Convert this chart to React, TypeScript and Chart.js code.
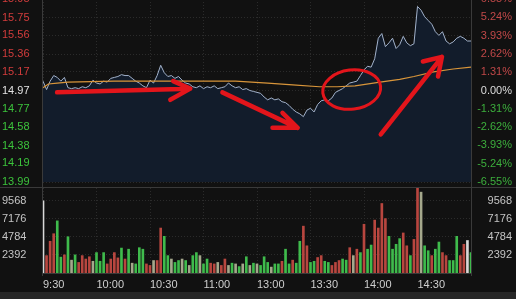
import React, { useEffect, useRef } from 'react';
import { Chart, registerables } from 'chart.js';
Chart.register(...registerables);

const prevClose = 14.97;
const priceTicks = [13.99, 14.19, 14.38, 14.58, 14.77, 14.97, 15.17, 15.36, 15.56, 15.75, 15.95];
const pctTicks = [-6.55, -5.24, -3.93, -2.62, -1.31, 0, 1.31, 2.62, 3.93, 5.24, 6.55];
const volTicks = [2392, 4784, 7176, 9568];
const timeTickMinutes = [0, 30, 60, 90, 120, 150, 180, 210, 240];
const timeTickLabels = ['9:30', '10:00', '10:30', '11:00', '13:00', '13:30', '14:00', '14:30', ''];

// price every 2 minutes (minute = index * 2)
const prices = [
  15.07, 14.98, 15.07, 15.13, 15.11, 15.07, 15.11, 15.00, 14.99, 15.00,
  14.99, 15.01, 15.00, 15.02, 15.08, 15.05, 15.04, 15.07, 15.06, 15.10,
  15.11, 15.12, 15.14, 15.13, 15.13, 15.10, 15.07, 15.05, 15.02, 15.00,
  15.08, 15.05, 15.13, 15.24, 15.16, 15.12, 15.13, 15.10, 15.12, 15.08,
  15.05, 15.04, 15.01, 15.00, 15.02, 14.99, 15.01, 15.00, 15.02, 14.99,
  15.00, 15.01, 15.05, 15.02, 15.00, 15.01, 14.98, 14.99, 14.97, 14.96,
  14.95, 14.94, 14.90, 14.87, 14.89, 14.87, 14.88, 14.85, 14.84, 14.81,
  14.77, 14.74, 14.72, 14.69, 14.76, 14.78, 14.74, 14.82, 14.86, 14.87,
  14.86, 14.89, 14.95, 14.97, 14.99, 15.02, 15.05, 15.06, 15.07, 15.13,
  15.19, 15.23, 15.22, 15.31, 15.53, 15.58, 15.44, 15.48, 15.53, 15.42,
  15.46, 15.55, 15.48, 15.45, 15.47, 15.87, 15.83, 15.76, 15.72, 15.68,
  15.60, 15.56, 15.60, 15.50, 15.47, 15.49, 15.53, 15.55, 15.53, 15.50,
  15.50,
];

const avgMinutes = [0, 3, 8, 14, 40, 83, 108, 126, 140, 155, 165, 175, 189, 200, 208, 219, 230, 240];
const avgPrices = [15.00, 15.04, 15.05, 15.06, 15.07, 15.07, 15.07, 15.05, 15.03, 15.01, 15.01, 15.02, 15.06, 15.09, 15.12, 15.17, 15.20, 15.22];

// volume every 2 minutes
const volumes = [
  9568, 2300, 4200, 5200, 6900, 2100, 2400, 4800, 1700, 2400,
  1400, 2300, 1850, 2150, 1550, 2700, 1550, 2700, 1200, 1850,
  2700, 2000, 3300, 1850, 3150, 1300, 1200, 3350, 3150, 1200,
  1000, 1650, 1650, 5950, 4850, 2300, 1850, 1400, 1650, 1850,
  1650, 1000, 2300, 2700, 2300, 1200, 1850, 1300, 1200, 1400,
  1000, 1850, 1000, 1300, 1200, 850, 1200, 2150, 1000, 1300,
  1200, 1000, 2150, 1400, 780, 1200, 1200, 1550, 3150, 1200,
  1700, 1300, 4200, 6200, 3600, 1400, 1550, 2050, 2300, 1550,
  1400, 1000, 1400, 1650, 1850, 1700, 3350, 2300, 3150, 2700,
  6450, 3150, 3700, 7000, 5950, 9200, 7200, 4850, 3150, 3800,
  4550, 5300, 3600, 2300, 4450, 11500, 10700, 3600, 2950, 2300,
  3150, 4100, 2700, 2300, 1650, 1650, 4850, 2300, 3800, 4300,
  2700,
];
const volumeDirs = [
  'w', 'r', 'r', 'r', 'g', 'g', 'r', 'g', 'n', 'g',
  'r', 'r', 'r', 'r', 'n', 'g', 'g', 'g', 'r', 'r',
  'r', 'r', 'g', 'r', 'g', 'n', 'g', 'g', 'g', 'r',
  'r', 'n', 'r', 'r', 'g', 'g', 'n', 'g', 'g', 'n',
  'g', 'n', 'g', 'g', 'n', 'g', 'g', 'r', 'r', 'n',
  'r', 'r', 'n', 'g', 'n', 'g', 'n', 'g', 'n', 'g',
  'n', 'g', 'g', 'g', 'n', 'g', 'g', 'r', 'g', 'g',
  'r', 'g', 'g', 'r', 'r', 'g', 'g', 'r', 'r', 'g',
  'g', 'r', 'r', 'r', 'g', 'g', 'r', 'n', 'r', 'g',
  'r', 'g', 'g', 'r', 'r', 'r', 'r', 'g', 'g', 'g',
  'g', 'r', 'r', 'g', 'r', 'r', 'n', 'g', 'g', 'r',
  'g', 'g', 'r', 'r', 'g', 'g', 'g', 'r', 'r', 'w',
  'g',
];

// annotations in data units: [minute, price]
const arrowTails = [[7.9, 14.95], [100.6, 14.95], [189.4, 14.50]];
const arrowTips = [[82.6, 14.99], [142.8, 14.57], [223.7, 15.33]];
const arrowWingsA = [[73, 15.07], [134.3, 14.73], [213, 15.28]];
const arrowWingsB = [[71.4, 14.87], [128.7, 14.57], [221.5, 15.12]];
const circleCenter = [173.1, 14.98];
const circleRadius = [16.3, 0.21];

const FONT = { family: 'Liberation Sans', size: 11 };
const RED = '#d23c3c';
const GREEN = '#3cc43c';
const dirColor: Record<string, string> = { r: '#b8463f', g: '#3fbb4c', n: '#a5a88c', w: '#d8d8d8' };

const gridColor = '#2b2b2b';

const framePlugin = (withHoriz: boolean) => ({
  id: 'frame' + (withHoriz ? 'v' : 'p'),
  afterDraw(chart: any) {
    const { ctx, chartArea } = chart;
    const l = Math.round(chartArea.left) - 0.5;
    const r = Math.round(chartArea.right) + 0.5;
    ctx.save();
    ctx.strokeStyle = '#3a3a3a';
    ctx.lineWidth = 1;
    ctx.beginPath();
    const bottom = withHoriz ? Math.round(chartArea.bottom) + 3 : chart.height;
    ctx.moveTo(l, 0); ctx.lineTo(l, bottom);
    ctx.moveTo(r, 0); ctx.lineTo(r, bottom);
    if (withHoriz) {
      const t = Math.round(chartArea.top) - 0.5;
      const b = Math.round(chartArea.bottom) + 0.5;
      ctx.moveTo(0, t); ctx.lineTo(chart.width, t);
      ctx.moveTo(l, b); ctx.lineTo(r, b);
    }
    ctx.stroke();
    ctx.restore();
  },
});

const annotationPlugin = {
  id: 'annot',
  afterDatasetsDraw(chart: any) {
    const { ctx, scales } = chart;
    const xs = scales.x, ys = scales.y;
    const P = (p: number[]) => [xs.getPixelForValue(p[0]), ys.getPixelForValue(p[1])];
    ctx.save();
    ctx.strokeStyle = '#e3151b';
    ctx.lineCap = 'round';
    ctx.lineJoin = 'round';
    ctx.lineWidth = 4.5;
    arrowTails.forEach((tail, i) => {
      const a = P(tail), b = P(arrowTips[i]), w1 = P(arrowWingsA[i]), w2 = P(arrowWingsB[i]);
      ctx.beginPath();
      ctx.moveTo(a[0], a[1]); ctx.lineTo(b[0], b[1]);
      ctx.moveTo(w1[0], w1[1]); ctx.lineTo(b[0], b[1]); ctx.lineTo(w2[0], w2[1]);
      ctx.stroke();
    });
    const c = P(circleCenter);
    const rx = xs.getPixelForValue(circleCenter[0] + circleRadius[0]) - c[0];
    const ry = c[1] - ys.getPixelForValue(circleCenter[1] + circleRadius[1]);
    ctx.lineWidth = 3;
    ctx.beginPath();
    ctx.ellipse(c[0], c[1], rx, ry, -0.12, 0, Math.PI * 2);
    ctx.stroke();
    ctx.restore();
  },
};

function xAxis(showLabels: boolean): any {
  return {
    type: 'linear', min: 0, max: 240, offset: false,
    afterBuildTicks: (s: any) => { s.ticks = timeTickMinutes.map((v) => ({ value: v })); },
    afterFit: (s: any) => { s.height = showLabels ? 26 : 0; s.paddingLeft = 0; s.paddingRight = 0; },
    grid: { color: gridColor, drawTicks: false, lineWidth: 1, offset: false },
    border: { display: false, dash: [1, 2] },
    ticks: {
      display: showLabels, autoSkip: false, maxRotation: 0, minRotation: 0, align: 'start', padding: 5,
      font: FONT, color: '#cfcfcf',
      callback: (_v: any, i: number) => timeTickLabels[i],
    },
  };
}

export default function App() {
  const priceRef = useRef<HTMLCanvasElement>(null);
  const volRef = useRef<HTMLCanvasElement>(null);

  useEffect(() => {
    document.body.style.margin = '0';
    document.body.style.background = '#111111';
    const pc = new Chart(priceRef.current as HTMLCanvasElement, {
      type: 'line',
      data: {
        datasets: [
          {
            data: avgPrices.map((p, i) => ({ x: avgMinutes[i], y: p })),
            borderColor: '#d8953a', borderWidth: 1.2, pointRadius: 0, fill: false, tension: 0,
            xAxisID: 'x', yAxisID: 'y',
          } as any,
          {
            data: prices.map((p, i) => ({ x: i * 2, y: p })),
            borderColor: '#a3b3cc', borderWidth: 1, pointRadius: 0, tension: 0,
            fill: 'start', backgroundColor: '#121c2b',
            xAxisID: 'x', yAxisID: 'y',
          } as any,
        ],
      },
      options: {
        responsive: false, animation: false,
        layout: { padding: { left: 2, right: 4, top: 0, bottom: 7 } },
        plugins: { legend: { display: false }, tooltip: { enabled: false } },
        scales: {
          x: xAxis(false),
          y: {
            type: 'linear', position: 'left', min: 13.99, max: 15.95,
            afterBuildTicks: (s: any) => { s.ticks = priceTicks.map((v) => ({ value: v })); },
            afterFit: (s: any) => { s.width = 41; s.paddingTop = 0; s.paddingBottom = 0; },
            grid: { color: gridColor, drawTicks: false },
            border: { display: false, dash: [1, 2] },
            ticks: {
              autoSkip: false, crossAlign: 'far', padding: 0, font: FONT,
              color: (ctx: any) => (ctx.tick.value > prevClose + 0.001 ? RED : ctx.tick.value < prevClose - 0.001 ? GREEN : '#e2e2e2'),
              callback: (v: any) => Number(v).toFixed(2),
            },
          },
          y2: {
            type: 'linear', position: 'right', min: -6.55, max: 6.55,
            afterBuildTicks: (s: any) => { s.ticks = pctTicks.map((v) => ({ value: v })); },
            afterFit: (s: any) => { s.width = 41; s.paddingTop = 0; s.paddingBottom = 0; },
            grid: { display: false, drawTicks: false },
            border: { display: false },
            ticks: {
              autoSkip: false, crossAlign: 'far', padding: 0, font: FONT,
              color: (ctx: any) => (ctx.tick.value > 0.001 ? '#c04848' : ctx.tick.value < -0.001 ? '#3cae3c' : '#dcdcdc'),
              callback: (v: any) => Number(v).toFixed(2) + '%',
            },
          },
        },
      } as any,
      plugins: [framePlugin(false), annotationPlugin],
    });

    const vc = new Chart(volRef.current as HTMLCanvasElement, {
      type: 'bar',
      data: {
        datasets: [
          {
            data: volumes.map((v, i) => ({ x: i * 2, y: v })),
            backgroundColor: volumeDirs.map((d) => dirColor[d]),
            borderWidth: 0, barThickness: 2,
            xAxisID: 'x', yAxisID: 'y',
          } as any,
        ],
      },
      options: {
        responsive: false, animation: false,
        layout: { padding: { left: 2, right: 4, top: 2, bottom: 0 } },
        plugins: { legend: { display: false }, tooltip: { enabled: false } },
        scales: {
          x: xAxis(true),
          y: {
            type: 'linear', position: 'left', min: 0, max: 11250,
            afterBuildTicks: (s: any) => { s.ticks = volTicks.map((v) => ({ value: v })); },
            afterFit: (s: any) => { s.width = 41; s.paddingTop = 0; s.paddingBottom = 0; },
            grid: { color: gridColor, drawTicks: false },
            border: { display: false, dash: [1, 2] },
            ticks: { autoSkip: false, crossAlign: 'far', padding: 0, font: FONT, color: '#c4c4c4', callback: (v: any) => String(v) },
          },
          y2: {
            type: 'linear', position: 'right', min: 0, max: 11250,
            afterBuildTicks: (s: any) => { s.ticks = volTicks.map((v) => ({ value: v })); },
            afterFit: (s: any) => { s.width = 41; s.paddingTop = 0; s.paddingBottom = 0; },
            grid: { display: false, drawTicks: false },
            border: { display: false },
            ticks: { autoSkip: false, crossAlign: 'far', padding: 0, font: FONT, color: '#c4c4c4', callback: (v: any) => String(v) },
          },
        },
      } as any,
      plugins: [framePlugin(true)],
    });

    return () => { pc.destroy(); vc.destroy(); };
  }, []);

  return (
    <div style={{ position: 'fixed', left: 0, top: 0, width: 516, height: 299, background: '#111111', overflow: 'hidden' }}>
      <div style={{ position: 'absolute', left: 0, top: 292, width: 516, height: 7, background: '#272727' }} />
      <canvas ref={priceRef} width={516} height={190} style={{ position: 'absolute', left: 0, top: -1, display: 'block' }} />
      <canvas ref={volRef} width={516} height={113} style={{ position: 'absolute', left: 0, top: 186, display: 'block' }} />
    </div>
  );
}
